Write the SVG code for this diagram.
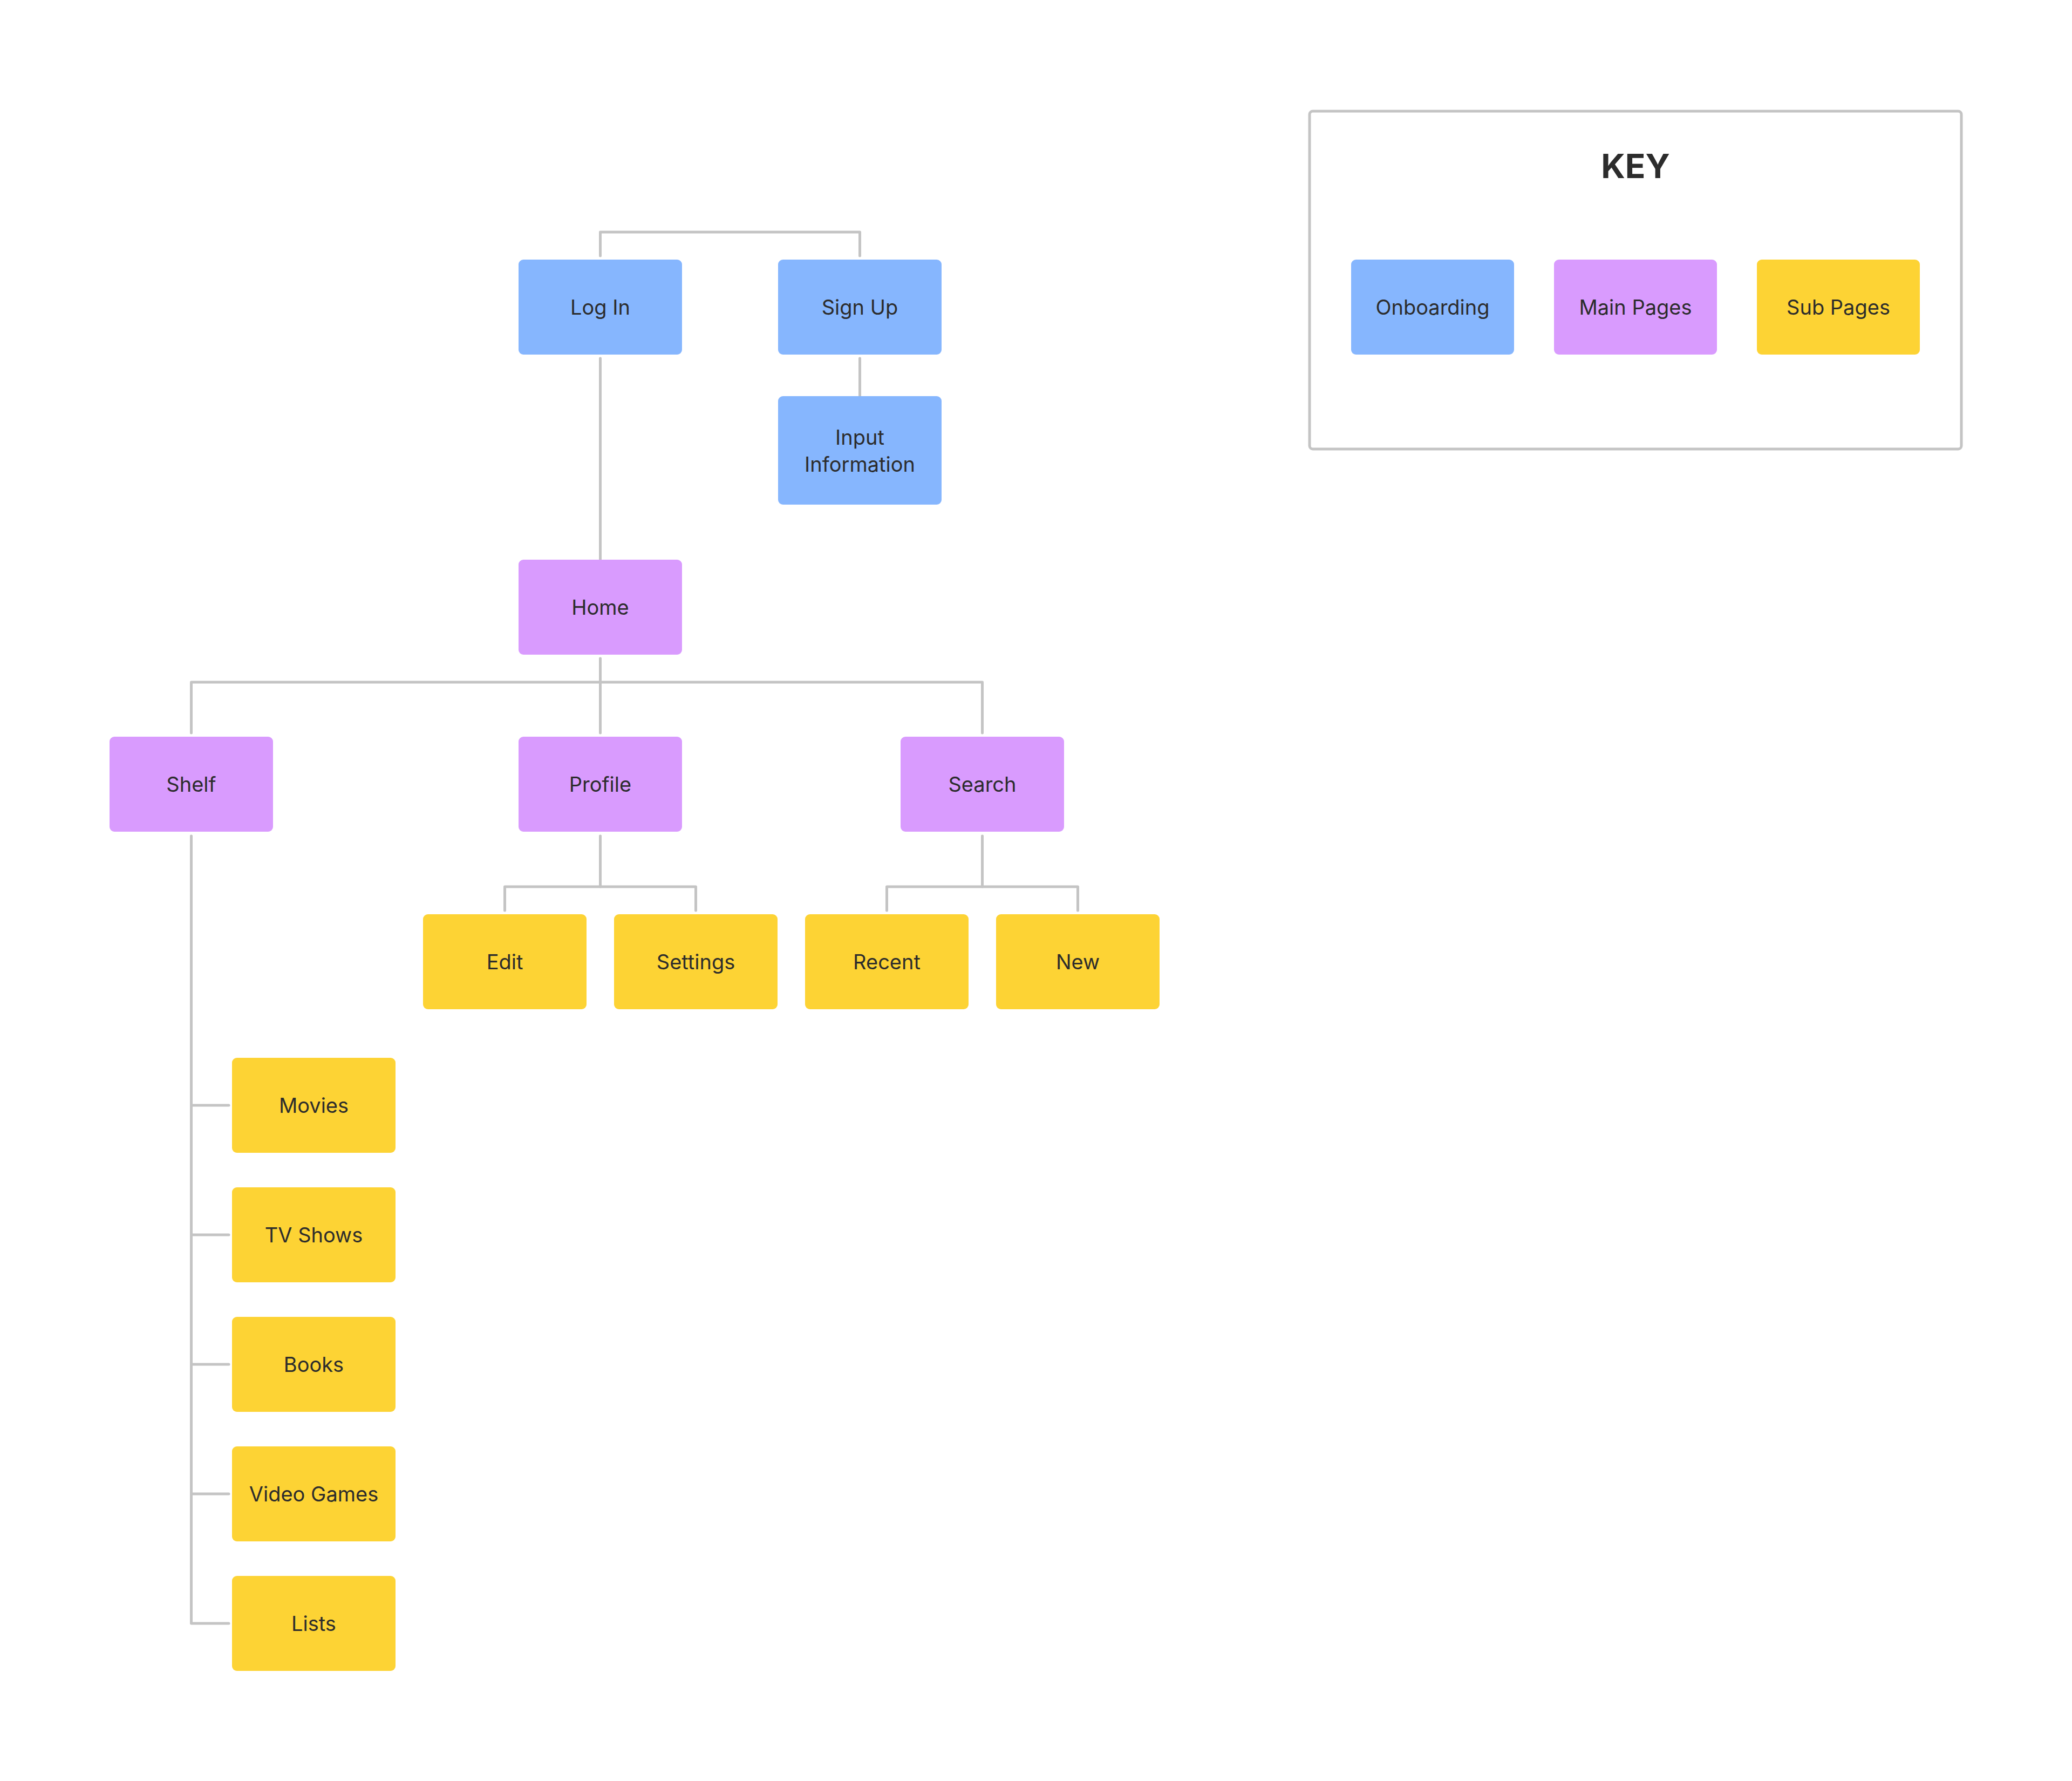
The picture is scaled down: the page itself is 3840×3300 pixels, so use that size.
<svg xmlns="http://www.w3.org/2000/svg" width="3840" height="3300" viewBox="0 0 3840 3300">
<style>
.ob{fill:#86B6FE}
.mp{fill:#D99BFE}
.sp{fill:#FDD334}
.t{font-family:Inter,"Noto Sans","Liberation Sans",sans-serif;font-size:38px;fill:#2C2C2C;text-anchor:middle}
.k{font-family:Inter,"Noto Sans","Liberation Sans",sans-serif;font-size:62px;font-weight:700;fill:#2C2C2C;text-anchor:middle}
.c{fill:none;stroke:#C4C4C4;stroke-width:5;stroke-linecap:round;stroke-linejoin:round}
</style>
<rect width="3840" height="3300" fill="#FFFFFF"/>
<g id="connectors">
<path class="c" d="M1112.5 474 V430 H1593.5 V474"/>
<path class="c" d="M1112.5 664 V1037"/>
<path class="c" d="M1593.5 664 V734"/>
<path class="c" d="M1112.5 1220 V1358"/>
<path class="c" d="M354.5 1358 V1264 H1820.5 V1358"/>
<path class="c" d="M1112.5 1549 V1643"/>
<path class="c" d="M935.5 1687 V1643 H1289.5 V1687"/>
<path class="c" d="M1820.5 1549 V1643"/>
<path class="c" d="M1643.5 1687 V1643 H1997.5 V1687"/>
<path class="c" d="M354.5 1549 V3008 H424"/>
<path class="c" d="M354.5 2048 H424"/>
<path class="c" d="M354.5 2288 H424"/>
<path class="c" d="M354.5 2528 H424"/>
<path class="c" d="M354.5 2768 H424"/>
</g>
<g id="login"><rect class="ob" x="961" y="481" width="303" height="176" rx="9"/><text class="t" x="1112.5" y="583">Log In</text></g>
<g id="signup"><rect class="ob" x="1442" y="481" width="303" height="176" rx="9"/><text class="t" x="1593.5" y="583">Sign Up</text></g>
<g id="input-information"><rect class="ob" x="1442" y="734" width="303" height="201" rx="9"/><text class="t" x="1593.5" y="824">Input</text><text class="t" x="1593.5" y="874">Information</text></g>
<g id="home"><rect class="mp" x="961" y="1037" width="303" height="176" rx="9"/><text class="t" x="1112.5" y="1139">Home</text></g>
<g id="shelf"><rect class="mp" x="203" y="1365" width="303" height="176" rx="9"/><text class="t" x="354.5" y="1467">Shelf</text></g>
<g id="profile"><rect class="mp" x="961" y="1365" width="303" height="176" rx="9"/><text class="t" x="1112.5" y="1467">Profile</text></g>
<g id="search"><rect class="mp" x="1669" y="1365" width="303" height="176" rx="9"/><text class="t" x="1820.5" y="1467">Search</text></g>
<g id="edit"><rect class="sp" x="784" y="1694" width="303" height="176" rx="9"/><text class="t" x="935.5" y="1796">Edit</text></g>
<g id="settings"><rect class="sp" x="1138" y="1694" width="303" height="176" rx="9"/><text class="t" x="1289.5" y="1796">Settings</text></g>
<g id="recent"><rect class="sp" x="1492" y="1694" width="303" height="176" rx="9"/><text class="t" x="1643.5" y="1796">Recent</text></g>
<g id="new"><rect class="sp" x="1846" y="1694" width="303" height="176" rx="9"/><text class="t" x="1997.5" y="1796">New</text></g>
<g id="movies"><rect class="sp" x="430" y="1960" width="303" height="176" rx="9"/><text class="t" x="581.5" y="2062">Movies</text></g>
<g id="tv-shows"><rect class="sp" x="430" y="2200" width="303" height="176" rx="9"/><text class="t" x="581.5" y="2302">TV Shows</text></g>
<g id="books"><rect class="sp" x="430" y="2440" width="303" height="176" rx="9"/><text class="t" x="581.5" y="2542">Books</text></g>
<g id="video-games"><rect class="sp" x="430" y="2680" width="303" height="176" rx="9"/><text class="t" x="581.5" y="2782">Video Games</text></g>
<g id="lists"><rect class="sp" x="430" y="2920" width="303" height="176" rx="9"/><text class="t" x="581.5" y="3022">Lists</text></g>
<g id="key">
<rect x="2427" y="206" width="1208" height="626" rx="6" fill="#FFFFFF" stroke="#C4C4C4" stroke-width="5"/>
<text class="k" x="3031" y="330">KEY</text>
</g>
<g id="key-onboarding"><rect class="ob" x="2504" y="481" width="302" height="176" rx="9"/><text class="t" x="2655" y="583">Onboarding</text></g>
<g id="key-main-pages"><rect class="mp" x="2880" y="481" width="302" height="176" rx="9"/><text class="t" x="3031" y="583">Main Pages</text></g>
<g id="key-sub-pages"><rect class="sp" x="3256" y="481" width="302" height="176" rx="9"/><text class="t" x="3407" y="583">Sub Pages</text></g>
</svg>
